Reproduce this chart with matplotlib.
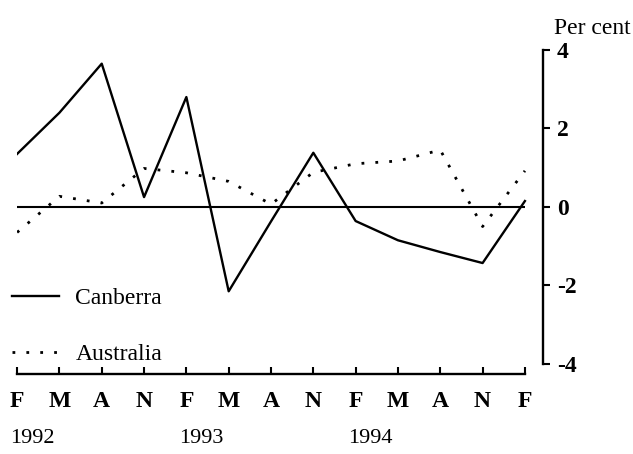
import matplotlib
matplotlib.use("Agg")
from matplotlib import pyplot as plt
import matplotlib.transforms as mtransforms
import numpy as np

plt.rcParams['font.family'] = ['Liberation Serif', 'DejaVu Serif']

# quarterly months, Feb 1992 .. Feb 1995
months = ['F', 'M', 'A', 'N', 'F', 'M', 'A', 'N', 'F', 'M', 'A', 'N', 'F']
years = ['1992', '1993', '1994']
year_pos = [0, 4, 8]

canberra = [1.35, 2.4, 3.65, 0.25, 2.8, -2.15, -0.37, 1.38, -0.36, -0.85, -1.15, -1.43, 0.15]
australia = [-0.65, 0.27, 0.1, 0.98, 0.87, 0.65, 0.07, 0.88, 1.1, 1.17, 1.45, -0.5, 0.92]

x = np.arange(len(months))

fig = plt.figure(figsize=(6.33, 4.54), dpi=100)
ax = fig.add_axes([0.027, 0.176, 0.831, 0.714])

ax.hlines(0, 0, 12, color='black', linewidth=1.5)
ax.plot(x, canberra, color='black', linewidth=1.7, label='Canberra')
ax.plot(x, australia, color='black', linewidth=2, linestyle=(0, (1, 4)), label='Australia')

ax.set_xlim(0, 12.43)
ax.set_ylim(-4.26, 4.0)

ax.spines['top'].set_visible(False)
ax.spines['left'].set_visible(False)
ax.spines['right'].set_bounds(-4, 4)
ax.spines['bottom'].set_bounds(0, 12)
for s in ['right', 'bottom']:
    ax.spines[s].set_linewidth(1.7)

ax.yaxis.tick_right()
ax.set_yticks([4, 2, 0, -2, -4])
ax.set_yticklabels(['4', '2', '0', '-2', '-4'], fontsize=17, fontweight='bold')
ax.tick_params(axis='y', direction='out', length=5, width=1.5, pad=5)

ax.set_xticks(x)
ax.set_xticklabels(months, fontsize=17, fontweight='bold')
ax.tick_params(axis='x', direction='in', length=5, width=1.5, pad=12)

trans = mtransforms.blended_transform_factory(ax.transData, fig.transFigure)
for p, yr in zip(year_pos, years):
    ax.text(p + 0.35, 0.035, yr, transform=trans, ha='center', va='center', fontsize=16)

fig.text(0.935, 0.915, 'Per cent', ha='center', va='bottom', fontsize=17)

ax.legend(loc='lower left', bbox_to_anchor=(-0.033, -0.008), frameon=False, fontsize=17,
          borderpad=0, handlelength=2.0, handletextpad=0.7, labelspacing=1.45)

fig.savefig('out.png', dpi=100)
